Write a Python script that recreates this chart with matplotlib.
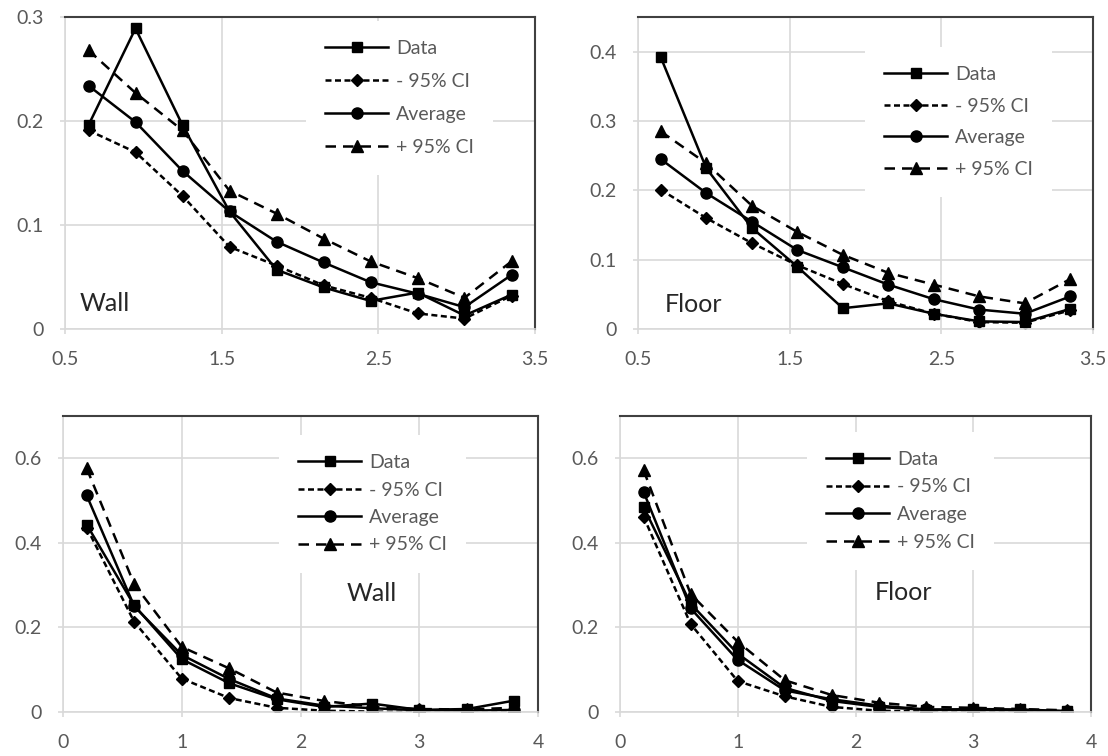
import matplotlib
matplotlib.use("Agg")
import matplotlib.pyplot as plt

plt.rcParams['font.family'] = ['Lato', 'DejaVu Sans']

W, H = 1108, 756

series_names = ["Data", "- 95% CI", "Average", "+ 95% CI"]

# top row (x from 0.65 to 3.35)
x_top = [0.65, 0.95, 1.25, 1.55, 1.85, 2.15, 2.45, 2.75, 3.05, 3.35]

wall_top_data = [0.196, 0.289, 0.196, 0.113, 0.057, 0.040, 0.027, 0.035, 0.013, 0.033]
wall_top_lo = [0.191, 0.170, 0.128, 0.079, 0.061, 0.042, 0.030, 0.015, 0.010, 0.032]
wall_top_avg = [0.234, 0.199, 0.152, 0.113, 0.084, 0.064, 0.045, 0.034, 0.021, 0.052]
wall_top_hi = [0.268, 0.227, 0.191, 0.133, 0.111, 0.087, 0.065, 0.049, 0.030, 0.065]

floor_top_data = [0.392, 0.232, 0.146, 0.090, 0.030, 0.037, 0.022, 0.011, 0.010, 0.029]
floor_top_lo = [0.201, 0.160, 0.124, 0.092, 0.065, 0.040, 0.022, 0.010, 0.009, 0.027]
floor_top_avg = [0.245, 0.196, 0.155, 0.114, 0.089, 0.064, 0.043, 0.028, 0.022, 0.047]
floor_top_hi = [0.285, 0.239, 0.178, 0.140, 0.107, 0.081, 0.064, 0.047, 0.037, 0.072]

# bottom row (x from 0.2 to 3.8)
x_bot = [0.2, 0.6, 1.0, 1.4, 1.8, 2.2, 2.6, 3.0, 3.4, 3.8]

wall_bot_data = [0.443, 0.252, 0.125, 0.068, 0.030, 0.012, 0.020, 0.005, 0.007, 0.027]
wall_bot_lo = [0.436, 0.213, 0.079, 0.033, 0.010, 0.003, 0.001, 0.000, 0.000, 0.000]
wall_bot_avg = [0.512, 0.250, 0.135, 0.078, 0.032, 0.015, 0.009, 0.004, 0.003, 0.005]
wall_bot_hi = [0.576, 0.302, 0.154, 0.103, 0.046, 0.026, 0.013, 0.007, 0.006, 0.010]

floor_bot_data = [0.485, 0.256, 0.138, 0.057, 0.026, 0.012, 0.005, 0.007, 0.006, 0.002]
floor_bot_lo = [0.462, 0.208, 0.073, 0.037, 0.012, 0.003, 0.001, 0.001, 0.000, 0.000]
floor_bot_avg = [0.521, 0.245, 0.123, 0.051, 0.030, 0.015, 0.006, 0.005, 0.004, 0.002]
floor_bot_hi = [0.572, 0.279, 0.166, 0.075, 0.040, 0.022, 0.012, 0.010, 0.007, 0.004]

grid_col = "#d9d9d9"
text_col = "#595959"
frame_col = "#404040"
lw = 1.8
fs = 14


def px_rect(left, right, top, bottom):
    return [left / W, (H - bottom) / H, (right - left) / W, (bottom - top) / H]


def draw_panel(fig, rect, x, data, lo, avg, hi, xlim, xticks, ylim, yticks,
               name, name_pos, leg_px, spacing):
    ax = fig.add_axes(rect)
    ax.plot(x, data, color="black", lw=lw, marker="s", ms=7)
    ax.plot(x, lo, color="black", lw=lw, marker="D", ms=6,
            dashes=(2.4, 1.4))
    ax.plot(x, avg, color="black", lw=lw, marker="o", ms=8)
    ax.plot(x, hi, color="black", lw=lw, marker="^", ms=8,
            dashes=(4.2, 2.8))

    ax.set_xlim(*xlim)
    ax.set_ylim(*ylim)
    ax.set_xticks(xticks)
    ax.set_yticks(yticks)
    ax.set_xticklabels([("%g" % t) for t in xticks])
    ax.set_yticklabels([("%g" % t) for t in yticks])
    ax.grid(True, color=grid_col, lw=1.2)
    ax.set_axisbelow(True)
    ax.tick_params(length=3.5, width=1.2, color=grid_col, pad=12,
                   labelsize=fs, labelcolor=text_col)
    ax.spines['left'].set_color(grid_col)
    ax.spines['bottom'].set_color(grid_col)
    ax.spines['left'].set_linewidth(1.2)
    ax.spines['bottom'].set_linewidth(1.2)
    ax.spines['top'].set_color(frame_col)
    ax.spines['right'].set_color(frame_col)
    ax.spines['top'].set_linewidth(1.5)
    ax.spines['right'].set_linewidth(1.5)

    ax.text(name_pos[0], name_pos[1], name, transform=ax.transAxes,
            fontsize=18, color="#262626", ha="left", va="center")

    fs_px = fs * 100 / 72
    pad = 1.0
    hx, hy = leg_px
    anchor = ((hx - pad * fs_px) / W, (H - (hy - pad * fs_px - 7)) / H)
    ax.legend(series_names, loc="upper left", bbox_to_anchor=anchor,
              bbox_transform=fig.transFigure, borderaxespad=0,
              borderpad=pad, fontsize=fs, labelcolor=text_col,
              handlelength=3.25, handletextpad=0.4, labelspacing=spacing,
              numpoints=1, frameon=True, facecolor="white",
              edgecolor="none", framealpha=1, fancybox=False)
    return ax


fig = plt.figure(figsize=(W / 100, H / 100), dpi=100)

draw_panel(fig, px_rect(65, 535, 17, 329), x_top,
           wall_top_data, wall_top_lo, wall_top_avg, wall_top_hi,
           (0.5, 3.5), [0.5, 1.5, 2.5, 3.5], (0, 0.3), [0, 0.1, 0.2, 0.3],
           "Wall", (0.032, 0.083), (325, 47), 0.82)

draw_panel(fig, px_rect(638, 1093, 17, 329), x_top,
           floor_top_data, floor_top_lo, floor_top_avg, floor_top_hi,
           (0.5, 3.5), [0.5, 1.5, 2.5, 3.5], (0, 0.45),
           [0, 0.1, 0.2, 0.3, 0.4],
           "Floor", (0.059, 0.08), (884, 73), 0.75)

draw_panel(fig, px_rect(63, 538, 416, 712), x_bot,
           wall_bot_data, wall_bot_lo, wall_bot_avg, wall_bot_hi,
           (0, 4), [0, 1, 2, 3, 4], (0, 0.7), [0, 0.2, 0.4, 0.6],
           "Wall", (0.598, 0.402), (298, 461), 0.54)

draw_panel(fig, px_rect(620, 1091, 416, 712), x_bot,
           floor_bot_data, floor_bot_lo, floor_bot_avg, floor_bot_hi,
           (0, 4), [0, 1, 2, 3, 4], (0, 0.7), [0, 0.2, 0.4, 0.6],
           "Floor", (0.541, 0.405), (826, 458), 0.54)

fig.savefig("out.png", dpi=100)
